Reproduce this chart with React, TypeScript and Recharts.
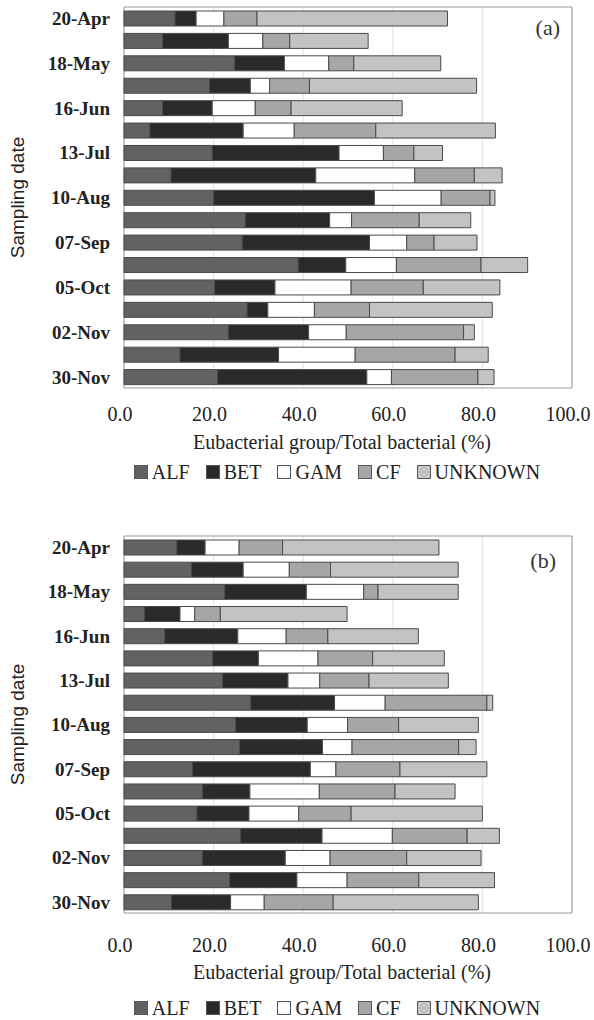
import React from 'react';
import { BarChart, Bar, XAxis, YAxis, CartesianGrid, Legend, ReferenceArea, Label } from 'recharts';

const dates = ['20-Apr', '04-May', '18-May', '01-Jun', '16-Jun', '30-Jun', '13-Jul', '27-Jul', '10-Aug', '24-Aug', '07-Sep', '21-Sep', '05-Oct', '19-Oct', '02-Nov', '16-Nov', '30-Nov'];
const xTicks = [0, 20, 40, 60, 80, 100];
const seriesKeys = ['ALF', 'BET', 'GAM', 'CF', 'UNKNOWN'];
const seriesColors = ['#626262', '#2a2a2a', '#ffffff', '#a6a6a6', '#c3c3c6'];

// Panel (a)
const alfA = [11.4, 8.6, 24.7, 19.1, 8.6, 5.8, 19.7, 10.5, 20.0, 27.1, 26.4, 38.9, 20.2, 27.5, 23.3, 12.5, 20.9];
const betA = [4.7, 14.7, 11.1, 9.1, 11.1, 20.8, 28.3, 32.3, 35.9, 18.8, 28.4, 10.6, 13.5, 4.6, 17.9, 22.0, 33.3];
const gamA = [6.2, 7.7, 9.9, 4.3, 9.6, 11.4, 9.9, 22.1, 14.9, 4.9, 8.3, 11.3, 17.0, 10.4, 8.4, 17.1, 5.5];
const cfA = [7.4, 6.0, 5.6, 8.9, 8.0, 18.2, 6.8, 13.3, 10.9, 15.1, 6.1, 18.9, 16.1, 12.3, 26.2, 22.3, 19.3];
const unkA = [42.5, 17.5, 19.4, 37.3, 24.8, 26.7, 6.4, 6.2, 1.1, 11.5, 9.6, 10.4, 17.1, 27.4, 2.4, 7.4, 3.6];

// Panel (b)
const alfB = [11.8, 15.1, 22.5, 4.6, 9.1, 19.8, 22.0, 28.3, 24.9, 25.8, 15.3, 17.5, 16.3, 26.0, 17.5, 23.6, 10.6];
const betB = [6.3, 11.5, 18.2, 7.9, 16.3, 10.2, 14.6, 18.7, 16.0, 18.5, 26.3, 10.6, 11.6, 18.2, 18.5, 15.0, 13.2];
const gamB = [7.6, 10.3, 12.8, 3.3, 10.8, 13.3, 7.1, 11.3, 9.0, 6.6, 5.7, 15.5, 11.1, 15.7, 10.0, 11.2, 7.5];
const cfB = [9.7, 9.2, 3.2, 5.7, 9.3, 12.2, 11.0, 22.7, 11.4, 23.8, 14.3, 16.9, 11.7, 16.7, 17.1, 16.0, 15.4];
const unkB = [34.9, 28.5, 17.9, 28.3, 20.2, 16.0, 17.7, 1.3, 17.8, 3.9, 19.4, 13.4, 29.3, 7.2, 16.6, 16.9, 32.4];

const build = (cols: number[][]) =>
  dates.map((d, i) => {
    const row: any = { date: d };
    seriesKeys.forEach((k, j) => (row[k] = cols[j][i]));
    return row;
  });

const dataA = build([alfA, betA, gamA, cfA, unkA]);
const dataB = build([alfB, betB, gamB, cfB, unkB]);

const SERIF = '"Liberation Serif", "Times New Roman", serif';
const SANS = '"Liberation Sans", Arial, sans-serif';

const renderLegend = () => (
  <div
    style={{
      height: 24,
      boxSizing: 'border-box',
      paddingLeft: 102,
      display: 'flex',
      justifyContent: 'center',
      alignItems: 'center',
      fontFamily: SERIF,
      fontSize: 20,
      color: '#222',
      lineHeight: '24px',
    }}
  >
    {seriesKeys.map((k, i) => (
      <span key={k} style={{ display: 'inline-flex', alignItems: 'center', marginRight: i < seriesKeys.length - 1 ? 16 : 0 }}>
        <svg width={14} height={14} style={{ display: 'block' }}>
          <rect x={0.5} y={0.5} width={13} height={13} fill={seriesColors[i]} stroke="#555" strokeWidth={1} />
        </svg>
        <span style={{ marginLeft: 4 }}>{k}</span>
      </span>
    ))}
  </div>
);

type PanelProps = {
  data: any[];
  tag: string;
  height: number;
  margin: { top: number; right: number; left: number; bottom: number };
  xAxisHeight: number;
  tickMargin: number;
  labelOffset: number;
  tagOffset: number;
};

function Panel({ data, tag, height, margin, xAxisHeight, tickMargin, labelOffset, tagOffset }: PanelProps) {
  return (
    <BarChart layout="vertical" width={594} height={height} data={data} margin={margin} barSize={15}>
      <CartesianGrid horizontal={false} vertical={true} stroke="#e2e2e2" />
      <XAxis
        type="number"
        domain={[0, 100]}
        ticks={xTicks}
        interval={0}
        tickFormatter={(v: number) => v.toFixed(1)}
        axisLine={false}
        tickLine={false}
        tickSize={0}
        tickMargin={tickMargin}
        height={xAxisHeight}
        tick={{ fontFamily: SERIF, fontSize: 20, fill: '#222', dx: -4 }}
      >
        <Label
          value="Eubacterial group/Total bacterial (%)"
          position="insideBottom"
          offset={labelOffset}
          dx={-6}
          style={{ fontFamily: SERIF, fontSize: 20, fill: '#222' }}
        />
      </XAxis>
      <YAxis
        type="category"
        dataKey="date"
        width={124}
        interval={1}
        axisLine={false}
        tickLine={false}
        tickSize={0}
        tickMargin={14}
        tick={{ fontFamily: SERIF, fontSize: 19, fontWeight: 'bold', fill: '#222' }}
      >
        <Label
          value="Sampling date"
          angle={-90}
          position="insideLeft"
          offset={17}
          style={{ textAnchor: 'middle', fontFamily: SANS, fontSize: 19, fill: '#222' }}
        />
      </YAxis>
      <Legend verticalAlign="bottom" content={renderLegend} />
      {seriesKeys.map((k, i) => (
        <Bar
          key={k}
          dataKey={k}
          stackId="s"
          fill={seriesColors[i]}
          stroke="#4a4a4a"
          strokeWidth={1}
          isAnimationActive={false}
        />
      ))}
      <ReferenceArea
        x1={0}
        x2={100}
        fill="none"
        stroke="#9a9a9a"
        strokeWidth={1}
        ifOverflow="visible"
        label={{ value: tag, position: 'insideTopRight', offset: tagOffset, style: { fontFamily: SERIF, fontSize: 22, fill: '#333' } }}
      />
    </BarChart>
  );
}

export default function App() {
  return (
    <div style={{ position: 'absolute', left: 0, top: 0, width: 594, height: 1020, background: '#fff' }}>
      <Panel
        data={dataA}
        tag="(a)"
        height={490}
        margin={{ top: 7, right: 22, left: 0, bottom: 6 }}
        xAxisHeight={72}
        tickMargin={19}
        labelOffset={11}
        tagOffset={12}
      />
      <Panel
        data={dataB}
        tag="(b)"
        height={530}
        margin={{ top: 46, right: 22, left: 0, bottom: 0 }}
        xAxisHeight={83}
        tickMargin={25}
        labelOffset={17}
        tagOffset={16}
      />
    </div>
  );
}
